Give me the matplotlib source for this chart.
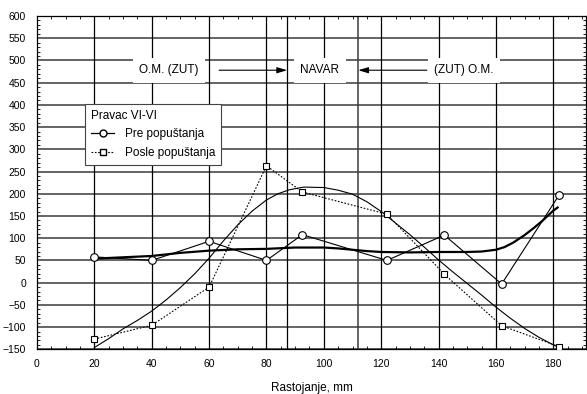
import matplotlib
matplotlib.use("Agg")
import matplotlib.pyplot as plt
from matplotlib.lines import Line2D
from matplotlib.ticker import MultipleLocator

plt.rcParams['font.family'] = ['Liberation Sans', 'DejaVu Sans']

# Measured residual stress, direction VI-VI
x_pre = [20, 40, 60, 80, 92.5, 122, 142, 162, 182]
pre = [58, 50, 93, 50, 108, 50, 107, -3, 197]

x_posle = [20, 40, 60, 80, 92.5, 122, 142, 162, 182]
posle = [-127, -96, -10, 263, 204, 154, 19, -97, -144]

# Smoothed trends
x_pre_fit = [20, 30, 40, 50, 60, 70, 80, 90, 100, 105, 110, 115, 120, 130, 140, 150,
             155, 160, 163, 166, 170, 173, 176, 180, 181.5]
pre_fit = [54, 57, 60, 67, 72, 75, 76, 79, 79, 77, 74, 71, 69, 68, 69, 69,
           70, 74, 80, 90, 107, 122, 138, 162, 169]

x_posle_fit = [20, 25, 30, 35, 40, 45, 50, 55, 60, 65, 70, 75, 80, 84, 88, 93, 100,
               105, 110, 115, 120, 125, 130, 135, 140, 145, 150, 155, 160, 165,
               170, 175, 180, 182]
posle_fit = [-146, -126, -104, -85, -64, -39, -11, 20, 55, 94, 130, 161, 186, 200, 209, 215, 214,
             208, 199, 182, 160, 134, 108, 80, 51, 24, -2, -28, -55, -80,
             -103, -123, -140, -146]

# Weld zone boundaries
navar_lo, navar_hi = 87.2, 112.0

fig = plt.figure(figsize=(5.87, 3.94), dpi=100)
ax = fig.add_axes([37 / 587, 1 - 349.3 / 394, 549 / 587, 333.3 / 394])

ax.set_xlim(0, 191.4)
ax.set_ylim(-150, 600)
ax.xaxis.set_major_locator(MultipleLocator(20))
ax.xaxis.set_minor_locator(MultipleLocator(5))
ax.yaxis.set_major_locator(MultipleLocator(50))
ax.yaxis.set_minor_locator(MultipleLocator(10))
ax.set_xticks(range(0, 181, 20))
ax.tick_params(which='both', direction='in', top=True, right=True, labelsize=7.5)
ax.tick_params(which='major', length=0)
ax.tick_params(which='minor', length=2, width=0.6)
ax.tick_params(axis='x', pad=7)
ax.tick_params(axis='y', pad=8)

# grid
for v in range(-150, 601, 50):
    ax.axhline(v, color='#3a3a3a', lw=1.1, zorder=1)
for v in range(20, 181, 20):
    ax.axvline(v, color='black', lw=0.9, zorder=1)
ax.axvline(navar_lo, color='black', lw=0.9, zorder=1)
ax.axvline(navar_hi, color='#3a3a3a', lw=1.1, zorder=1)

for s in ax.spines.values():
    s.set_linewidth(0.9)

# zone labels
box = dict(boxstyle='square,pad=0.55', fc='white', ec='none')
ax.text(46, 478, 'O.M. (ZUT)', ha='center', va='center', fontsize=8.5, bbox=box, zorder=3)
ax.text(98.5, 478, 'NAVAR', ha='center', va='center', fontsize=8.5, bbox=box, zorder=3)
ax.text(148.8, 478, '(ZUT) O.M.', ha='center', va='center', fontsize=8.5, bbox=box, zorder=3)
arrow = dict(arrowstyle='-|>,head_length=0.6,head_width=0.18', color='black', lw=0.8,
             shrinkA=0, shrinkB=0)
ax.annotate('', xy=(navar_lo, 478), xytext=(63.5, 478), arrowprops=arrow, zorder=4)
ax.annotate('', xy=(navar_hi, 478), xytext=(135.9, 478), arrowprops=arrow, zorder=4)

# series
ax.plot(x_pre_fit, pre_fit, color='black', lw=1.6, zorder=4)
ax.plot(x_posle_fit, posle_fit, color='black', lw=0.8, zorder=4)
ax.plot(x_pre, pre, color='black', lw=0.8, marker='o', ms=5.5,
        mfc='white', mec='black', mew=0.8, zorder=5)
ax.plot(x_posle, posle, color='black', lw=0.8, ls=(0, (1.5, 1.5)), marker='s', ms=5,
        mfc='white', mec='black', mew=0.8, zorder=5)

ax.set_xlabel('Rastojanje, mm', fontsize=8.5, labelpad=9)

handles = [
    Line2D([], [], color='black', lw=0.9, marker='o', ms=5, mfc='white', mec='black'),
    Line2D([], [], color='black', lw=0.8, ls=(0, (1.5, 1.5)), marker='s', ms=4.5,
           mfc='white', mec='black'),
]
leg = ax.legend(handles, ['Pre popuštanja', 'Posle popuštanja'], title='Pravac VI-VI',
                loc='upper left', bbox_to_anchor=(0.0874, 0.736), fontsize=8.5,
                title_fontsize=8.5, alignment='left', fancybox=False, framealpha=1,
                edgecolor='#444444', handlelength=2.0, handletextpad=0.9,
                borderpad=0.5, labelspacing=0.55, borderaxespad=0)
leg.get_frame().set_linewidth(0.8)
leg.set_zorder(6)

fig.savefig('out.png', dpi=100)
